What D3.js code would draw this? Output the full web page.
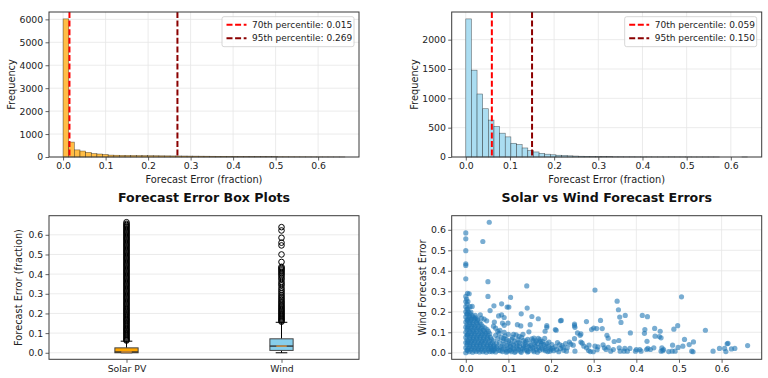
<!DOCTYPE html>
<html><head><meta charset="utf-8">
<script src="https://cdn.jsdelivr.net/npm/d3@7/dist/d3.min.js"></script>
<style>
html,body{margin:0;padding:0;background:#fff;}
svg{display:block;font-family:"DejaVu Sans",sans-serif;}
</style></head>
<body>
<svg id="c" width="768" height="378"></svg>
<script>
// ---------------- DATA ----------------
const xTicks = [0, 0.1, 0.2, 0.3, 0.4, 0.5, 0.6];
const solarTicksY = [0, 1000, 2000, 3000, 4000, 5000, 6000];
const windTicksY = [0, 500, 1000, 1500, 2000];
const boxTicksY = [0, 0.1, 0.2, 0.3, 0.4, 0.5, 0.6];

const solarBinRange = [0, 0.663];
const solarCounts = [6020, 650, 310, 260, 200, 150, 130, 110, 82, 76, 70, 68, 65, 62, 60, 57, 55, 52, 50, 47, 45, 43, 40, 38, 36, 34, 32, 30, 28, 26, 24, 22, 20, 18, 17, 16, 15, 14, 13, 12, 11, 10, 9, 8, 7, 6, 5, 5, 4, 3];
const windBinRange = [0, 0.638];
const windCounts = [2354, 1480, 1074, 823, 629, 520, 406, 343, 234, 211, 154, 109, 86, 62, 48, 38, 30, 26, 20, 16, 13, 11, 9, 8, 7, 6, 5, 5, 4, 4, 3, 3, 3, 2, 2, 2, 3, 2, 2, 2, 1, 1, 1, 1, 1, 0, 0, 0, 0, 1];

const solarPercentiles = [0.015, 0.269];
const windPercentiles = [0.059, 0.150];
const percentileNames = ["70th percentile", "95th percentile"];

const boxCategories = ["Solar PV", "Wind"];
// [whiskerLow, q1, median, q3, whiskerHigh]
const solarBox = [0.0, 0.0, 0.004, 0.025, 0.059];
const windBox = [0.0, 0.012, 0.034, 0.071, 0.155];
const solarFliers = [0.062,0.066,0.071,0.077,0.082,0.088,0.093,0.099,0.104,0.11,0.116,0.121,0.127,0.133,0.138,0.144,0.15,0.155,0.161,0.167,0.172,0.178,0.184,0.19,0.195,0.201,0.207,0.213,0.219,0.224,0.23,0.236,0.242,0.248,0.254,0.26,0.266,0.272,0.278,0.284,0.29,0.296,0.302,0.308,0.314,0.32,0.326,0.332,0.338,0.344,0.35,0.356,0.362,0.368,0.374,0.38,0.386,0.392,0.398,0.404,0.41,0.416,0.422,0.428,0.434,0.44,0.446,0.452,0.458,0.464,0.47,0.476,0.482,0.488,0.494,0.5,0.506,0.512,0.518,0.524,0.53,0.536,0.542,0.548,0.554,0.56,0.566,0.572,0.578,0.584,0.59,0.596,0.602,0.608,0.614,0.62,0.626,0.632,0.638,0.644,0.65,0.656,0.664];
const windFliers = [0.158,0.163,0.168,0.173,0.178,0.184,0.189,0.195,0.2,0.206,0.212,0.218,0.224,0.23,0.236,0.242,0.249,0.256,0.262,0.27,0.277,0.285,0.293,0.302,0.311,0.32,0.33,0.342,0.35,0.36,0.372,0.38,0.39,0.398,0.405,0.412,0.419,0.425,0.431,0.437,0.462,0.5,0.546,0.56,0.585,0.622,0.639];

// scatter: [solar error, wind error]
const scatterSparse = [[0,0.585],[0,0.556],[0,0.498],[0,0.434],[0,0.426],[0,0.361],[0.055,0.637],[0.04,0.543],[0.052,0.347],[0.052,0.275],[0.143,0.326],[0.303,0.306],[0.506,0.273],[0.105,0.270],[0.066,0.229],[0.084,0.239],[0.097,0.223],[0.101,0.223],[0.057,0.206],[0.144,0.218],[0.015,0.226],[0.355,0.252],[0.358,0.21],[0.361,0.174],[0.364,0.148],[0.374,0.182],[0.414,0.182],[0.426,0.176],
[0.155,0.177],[0.13,0.19],[0.084,0.185],[0.077,0.18],[0.09,0.172],[0.034,0.185],[0.022,0.182],[0.17,0.166],[0.037,0.169],[0.043,0.164],[0.049,0.156],[0.067,0.15],[0.086,0.145],[0.09,0.134],[0.099,0.145],[0.121,0.137],[0.129,0.131],[0.151,0.137],[0.19,0.132],[0.19,0.124],[0.21,0.113],[0.148,0.102],[0.186,0.105],
[0.222,0.156],[0.224,0.158],[0.255,0.14],[0.255,0.132],[0.283,0.152],[0.316,0.158],[0.3,0.121],[0.307,0.118],[0.32,0.118],[0.212,0.11],[0.295,0.113],[0.331,0.085],[0.334,0.071],[0.348,0.055],[0.359,0.06],[0.386,0.097],[0.42,0.113],[0.419,0.095],[0.443,0.119],[0.456,0.105],[0.488,0.115],[0.497,0.132],[0.444,0.081],[0.454,0.079],[0.458,0.073],[0.425,0.056],[0.562,0.11],[0.513,0.065],[0.534,0.053],[0.524,0.04],[0.509,0.032],[0.485,0.037],[0.498,0.026],[0.53,0.008],[0.533,0.005],[0.58,0.008],[0.595,0.021],[0.607,0.021],[0.613,0.044],[0.615,0.046],[0.623,0.019],[0.631,0.021],[0.661,0.035],[0.61,0.006],[0.476,0.006],[0.484,0.008],[0.491,0.008],[0.464,0.016],[0.46,0.024],[0.458,0.008],[0.462,0.01],[0.433,0.016],[0.441,0.024],[0.427,0.021],[0.424,0.016],[0.408,0.016],[0.398,0.008],[0.411,0.008],[0.4,0.016],[0.385,0.021],[0.373,0.021],[0.371,0.008],[0.379,0.008],[0.362,0.008],[0.36,0.024],[0.346,0.016],[0.34,0.008],[0.334,0.027],[0.322,0.039],[0.325,0.024],[0.329,0.016],[0.31,0.029],[0.303,0.032],[0.308,0.015],[0.299,0.005],[0.289,0.037],[0.283,0.024],[0.288,0.011],[0.292,0.006],[0.273,0.047],[0.268,0.085],[0.27,0.052],[0.277,0.032],[0.255,0.069],[0.243,0.052],[0.246,0.042],[0.252,0.037],[0.256,0.008],[0.262,0.097],[0.27,0.092],[0.256,0.124]];

const scatterMid = [[0.062,0.005],[0.068,0.02],[0.072,0.045],[0.075,0.07],[0.078,0.095],[0.081,0.01],[0.085,0.032],[0.088,0.058],[0.092,0.082],[0.095,0.003],[0.098,0.024],[0.102,0.048],[0.105,0.015],[0.108,0.066],[0.112,0.038],[0.115,0.002],[0.118,0.088],[0.121,0.022],[0.125,0.052],[0.128,0.008],[0.131,0.075],[0.135,0.035],[0.138,0.014],[0.141,0.058],[0.145,0.004],[0.148,0.028],[0.151,0.046],[0.155,0.068],[0.158,0.012],[0.161,0.038],[0.165,0.058],[0.168,0.003],[0.171,0.025],[0.174,0.064],[0.178,0.045],[0.181,0.015],[0.185,0.07],[0.188,0.032],[0.192,0.006],[0.195,0.052],[0.198,0.022],[0.202,0.04],[0.206,0.01],[0.21,0.03],[0.215,0.05],[0.218,0.005],[0.222,0.02],[0.226,0.035],[0.23,0.012],[0.234,0.045],[0.238,0.025],[0.065,0.058],[0.07,0.085],[0.083,0.075],[0.095,0.065],[0.1,0.09],[0.11,0.075],[0.122,0.065],[0.134,0.09],[0.072,0.03],[0.09,0.042],[0.104,0.03],[0.118,0.045],[0.126,0.03],[0.14,0.04],[0.152,0.02],[0.163,0.05],[0.176,0.035],[0.158,0.06],[0.17,0.07],[0.18,0.055],[0.19,0.045],[0.077,0.012],[0.087,0.018],[0.097,0.008],[0.107,0.005],[0.113,0.018],[0.133,0.02],[0.143,0.012],[0.166,0.015],[0.187,0.01],[0.2,0.015],
[0.064,0.012],[0.066,0.038],[0.07,0.004],[0.074,0.022],[0.079,0.05],[0.082,0.028],[0.086,0.006],[0.089,0.07],[0.093,0.015],[0.096,0.036],[0.1,0.058],[0.103,0.011],[0.106,0.042],[0.11,0.024],[0.114,0.056],[0.117,0.008],[0.12,0.033],[0.124,0.016],[0.127,0.045],[0.13,0.002],[0.136,0.025],[0.139,0.05],[0.144,0.032],[0.147,0.007],[0.153,0.036],[0.157,0.025],[0.16,0.005],[0.164,0.03],[0.169,0.045],[0.173,0.012],[0.177,0.022],[0.183,0.04],[0.186,0.02],[0.194,0.03],[0.197,0.008],[0.204,0.022],[0.213,0.015],[0.22,0.04],[0.228,0.025],[0.236,0.008],[0.145,0.065],[0.16,0.072],[0.175,0.055],[0.135,0.06],[0.125,0.08],[0.112,0.09],[0.09,0.1],[0.08,0.11],[0.07,0.12],[0.065,0.13],[0.075,0.105]];

const scatterDense = [[0,0.0],[0.003,0.012],[0,0.025],[0.003,0.038],[0,0.05],[0.003,0.062],[0,0.075],[0.003,0.088],[0,0.1],[0.003,0.112],[0,0.125],[0.003,0.138],[0,0.15],[0.003,0.162],[0,0.175],[0.003,0.188],[0,0.2],[0.003,0.212],[0,0.225],[0.003,0.238],[0,0.25],[0.002,0.262],[0,0.275],[0.004,0.29],[0.008,0.288],
[0.008,0.005],[0.016,0.003],[0.024,0.006],[0.032,0.004],[0.04,0.005],[0.048,0.003],[0.056,0.006],
[0.006,0.022],[0.014,0.021],[0.022,0.023],[0.03,0.02],[0.038,0.022],[0.046,0.024],[0.054,0.021],[0.06,0.023],
[0.009,0.04],[0.017,0.041],[0.025,0.039],[0.033,0.04],[0.041,0.042],[0.05,0.039],[0.058,0.041],
[0.006,0.058],[0.014,0.057],[0.022,0.059],[0.03,0.058],[0.038,0.056],[0.046,0.059],[0.055,0.058],
[0.009,0.076],[0.017,0.075],[0.025,0.077],[0.033,0.076],[0.042,0.074],[0.05,0.077],[0.058,0.075],
[0.006,0.094],[0.014,0.093],[0.022,0.095],[0.031,0.094],[0.039,0.092],[0.047,0.095],[0.056,0.093],
[0.008,0.112],[0.016,0.111],[0.024,0.113],[0.033,0.112],[0.041,0.11],[0.05,0.113],
[0.006,0.13],[0.014,0.129],[0.022,0.131],[0.03,0.13],[0.04,0.128],
[0.008,0.148],[0.016,0.147],[0.025,0.149],[0.033,0.146],
[0.006,0.165],[0.013,0.164],[0.021,0.166],[0.028,0.163],
[0.008,0.18],[0.015,0.181],[0.006,0.2],[0.012,0.198],[0.005,0.215],[0.01,0.225],[0.005,0.25],
[0.004,0.013],[0.012,0.014],[0.02,0.012],[0.028,0.013],[0.036,0.014],[0.044,0.012],[0.052,0.013],[0.06,0.014],[0.066,0.012],
[0.01,0.031],[0.018,0.03],[0.026,0.032],[0.034,0.031],[0.042,0.03],[0.05,0.032],[0.058,0.031],[0.065,0.03],
[0.004,0.049],[0.012,0.048],[0.02,0.05],[0.028,0.049],[0.036,0.048],[0.045,0.05],[0.053,0.049],[0.062,0.048],
[0.01,0.067],[0.018,0.066],[0.026,0.068],[0.034,0.067],[0.042,0.066],[0.051,0.068],[0.06,0.067],
[0.004,0.085],[0.012,0.084],[0.02,0.086],[0.028,0.085],[0.036,0.084],[0.044,0.086],[0.052,0.085],
[0.01,0.103],[0.018,0.102],[0.026,0.104],[0.035,0.103],[0.044,0.102],[0.053,0.104],
[0.004,0.121],[0.012,0.12],[0.02,0.122],[0.028,0.121],[0.036,0.12],[0.045,0.122],
[0.01,0.139],[0.018,0.138],[0.027,0.14],[0.036,0.139],
[0.004,0.157],[0.011,0.156],[0.019,0.158],[0.027,0.157],
[0.01,0.172],[0.018,0.173],[0.024,0.171],[0.003,0.19],[0.01,0.191]];

// ---------------- DRAW ----------------
const svg = d3.select("#c");
const TICKF = 9.3, LABF = 9.8, LEGF = 9.0, TXT = "#222", SPINE = "#3a3a3a", GRID = "#e6e6e6";

const P = {
  tl: {x0: 49, x1: 359, y0: 12, y1: 157},
  tr: {x0: 451.7, x1: 761.7, y0: 12, y1: 157},
  bl: {x0: 49, x1: 359, y0: 215.7, y1: 359.3},
  br: {x0: 451.7, x1: 761.7, y0: 215.7, y1: 359.3}
};

function marginDomain(lo, hi) { const m = (hi - lo) * 0.05; return [lo - m, hi + m]; }

function frame(p, x, y, xt, yt, gridX) {
  const g = svg.append("g");
  if (gridX) g.selectAll(".gx").data(xt).enter().append("line")
    .attr("x1", d => x(d)).attr("x2", d => x(d)).attr("y1", p.y0).attr("y2", p.y1)
    .attr("stroke", GRID).attr("stroke-width", 0.8);
  g.selectAll(".gy").data(yt).enter().append("line")
    .attr("y1", d => y(d)).attr("y2", d => y(d)).attr("x1", p.x0).attr("x2", p.x1)
    .attr("stroke", GRID).attr("stroke-width", 0.8);
  return g;
}

function axes(p, x, y, xt, yt, xfmt, yfmt) {
  const ax = svg.append("g").attr("transform", `translate(0,${p.y1})`)
    .call(d3.axisBottom(x).tickValues(xt).tickFormat(xfmt).tickSizeInner(3.5).tickSizeOuter(0).tickPadding(2.3));
  const ay = svg.append("g").attr("transform", `translate(${p.x0},0)`)
    .call(d3.axisLeft(y).tickValues(yt).tickFormat(yfmt).tickSizeInner(3.5).tickSizeOuter(0).tickPadding(2.3));
  [ax, ay].forEach(a => {
    a.select(".domain").remove();
    a.selectAll("line").attr("stroke", SPINE).attr("stroke-width", 0.8);
    a.selectAll("text").attr("fill", TXT).style("font-size", TICKF + "px").style("font-family", "DejaVu Sans");
  });
  svg.append("rect").attr("x", p.x0).attr("y", p.y0).attr("width", p.x1 - p.x0).attr("height", p.y1 - p.y0)
    .attr("fill", "none").attr("stroke", SPINE).attr("stroke-width", 1);
}

function xLabel(p, t) {
  svg.append("text").attr("x", (p.x0 + p.x1) / 2).attr("y", p.y1 + 26.3).attr("text-anchor", "middle")
    .attr("fill", TXT).style("font-size", LABF + "px").text(t);
}
function yLabel(p, t, cx) {
  svg.append("text").attr("transform", `translate(${cx},${(p.y0 + p.y1) / 2}) rotate(-90)`)
    .attr("text-anchor", "middle").attr("dy", "0.35em")
    .attr("fill", TXT).style("font-size", LABF + "px").text(t);
}
function title(p, t) {
  svg.append("text").attr("x", (p.x0 + p.x1) / 2).attr("y", 197.5).attr("dy", "0.35em").attr("text-anchor", "middle")
    .attr("fill", "#111").style("font-size", "12.6px").style("font-weight", "bold").text(t);
}

function hist(p, counts, range, ticksY, fill, pct) {
  const n = counts.length, w = (range[1] - range[0]) / n;
  const bins = counts.map((c, i) => ({x0: range[0] + i * w, x1: range[0] + (i + 1) * w, c}));
  const x = d3.scaleLinear().domain(marginDomain(range[0], range[1])).range([p.x0, p.x1]);
  const y = d3.scaleLinear().domain([0, d3.max(counts) * 1.05]).range([p.y1, p.y0]);
  frame(p, x, y, xTicks, ticksY, true);
  svg.append("g").selectAll("rect").data(bins).enter().append("rect")
    .attr("x", d => x(d.x0)).attr("width", d => x(d.x1) - x(d.x0))
    .attr("y", d => y(d.c)).attr("height", d => y(0) - y(d.c))
    .attr("fill", fill).attr("stroke", "#000").attr("stroke-opacity", 0.55).attr("stroke-width", 0.6);
  const cols = ["#ff0000", "#8b0000"];
  pct.forEach((v, i) => {
    svg.append("line").attr("x1", x(v)).attr("x2", x(v)).attr("y1", p.y0).attr("y2", p.y1)
      .attr("stroke", cols[i]).attr("stroke-width", 2).attr("stroke-dasharray", "6,2.6");
  });
  axes(p, x, y, xTicks, ticksY, d3.format(".1f"), d3.format("d"));
  const lw = 132, lx = p.x1 - 5 - lw, ly = p.y0 + 4.7;
  svg.append("rect").attr("x", lx).attr("y", ly).attr("width", lw).attr("height", 30).attr("rx", 2)
    .attr("fill", "#fff").attr("fill-opacity", 0.8).attr("stroke", "#cccccc").attr("stroke-width", 0.8);
  pct.forEach((v, i) => {
    const yy = ly + 8 + i * 13.6;
    svg.append("line").attr("x1", lx + 4.5).attr("x2", lx + 24.5).attr("y1", yy).attr("y2", yy)
      .attr("stroke", cols[i]).attr("stroke-width", 2).attr("stroke-dasharray", "6,2.6");
    svg.append("text").attr("x", lx + 30).attr("y", yy).attr("dy", "0.35em").attr("fill", TXT)
      .style("font-size", LEGF + "px").text(`${percentileNames[i]}: ${v.toFixed(3)}`);
  });
  xLabel(p, "Forecast Error (fraction)");
  return {x, y};
}

hist(P.tl, solarCounts, solarBinRange, solarTicksY, "#ffbd45", solarPercentiles);
yLabel(P.tl, "Frequency", 11.5);
hist(P.tr, windCounts, windBinRange, windTicksY, "#abddf1", windPercentiles);
yLabel(P.tr, "Frequency", 414.5);

// Bottom-left: box plots
(function () {
  const p = P.bl;
  const x = d3.scaleLinear().domain([0.5, 2.5]).range([p.x0, p.x1]);
  const allMax = d3.max(solarFliers.concat(windFliers));
  const y = d3.scaleLinear().domain(marginDomain(0, allMax)).range([p.y1, p.y0]);
  frame(p, x, y, [1, 2], boxTicksY, false);
  const boxes = [
    {pos: 1, s: solarBox, fl: solarFliers, fill: "#ffa500"},
    {pos: 2, s: windBox, fl: windFliers, fill: "#87ceeb"}
  ];
  const bw = x(1.075) - x(1);
  boxes.forEach(b => {
    const cx = x(b.pos), [wl, q1, md, q3, wh] = b.s;
    const g = svg.append("g");
    g.append("line").attr("x1", cx).attr("x2", cx).attr("y1", y(q3)).attr("y2", y(wh)).attr("stroke", "#000").attr("stroke-width", 1);
    g.append("line").attr("x1", cx).attr("x2", cx).attr("y1", y(q1)).attr("y2", y(wl)).attr("stroke", "#000").attr("stroke-width", 1);
    [wl, wh].forEach(v => g.append("line").attr("x1", cx - bw / 2).attr("x2", cx + bw / 2).attr("y1", y(v)).attr("y2", y(v)).attr("stroke", "#000").attr("stroke-width", 1));
    g.append("rect").attr("x", cx - bw).attr("width", 2 * bw).attr("y", y(q3)).attr("height", y(q1) - y(q3))
      .attr("fill", b.fill).attr("stroke", "#444").attr("stroke-width", 1);
    g.append("line").attr("x1", cx - bw).attr("x2", cx + bw).attr("y1", y(md)).attr("y2", y(md)).attr("stroke", "#333").attr("stroke-width", 1.4);
    g.append("line").attr("x1", cx - bw * 0.45).attr("x2", cx + bw * 0.45).attr("y1", y(md)).attr("y2", y(md)).attr("stroke", "#f0a040").attr("stroke-width", 1.2);
    g.selectAll("circle").data(b.fl).enter().append("circle")
      .attr("cx", cx).attr("cy", d => y(d)).attr("r", 2.8)
      .attr("fill", "none").attr("stroke", "#000").attr("stroke-width", 1);
  });
  axes(p, x, y, [1, 2], boxTicksY, (d, i) => boxCategories[i], d3.format(".1f"));
  yLabel(p, "Forecast Error (fraction)", 19);
  title(p, "Forecast Error Box Plots");
})();

// Bottom-right: scatter
(function () {
  const p = P.br;
  const pts = scatterDense.concat(scatterMid, scatterSparse);
  const x = d3.scaleLinear().domain(marginDomain(0, d3.max(pts, d => d[0]))).range([p.x0, p.x1]);
  const y = d3.scaleLinear().domain(marginDomain(0, d3.max(pts, d => d[1]))).range([p.y1, p.y0]);
  frame(p, x, y, xTicks, boxTicksY, true);
  svg.append("g").selectAll("circle").data(pts).enter().append("circle")
    .attr("cx", d => x(d[0])).attr("cy", d => y(d[1])).attr("r", 2.6)
    .attr("fill", "#1f77b4").attr("fill-opacity", 0.6);
  axes(p, x, y, xTicks, boxTicksY, d3.format(".1f"), d3.format(".1f"));
  yLabel(p, "Wind Forecast Error", 422.5);
  title(p, "Solar vs Wind Forecast Errors");
})();
</script>
</body></html>
